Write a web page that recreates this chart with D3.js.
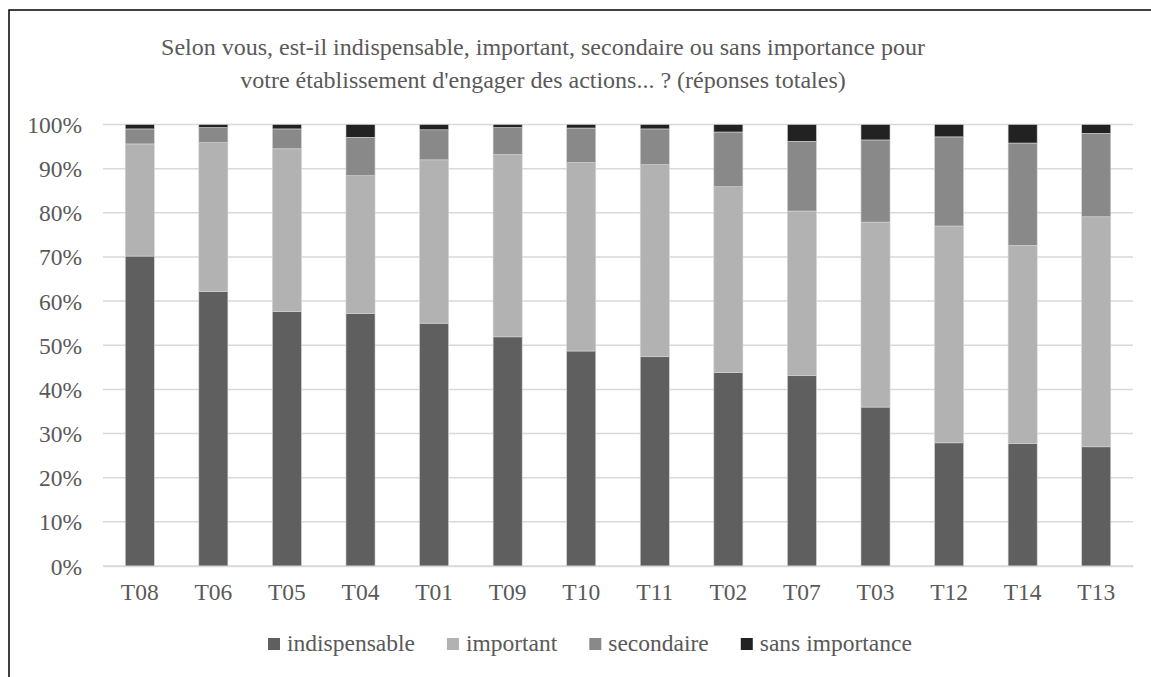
<!DOCTYPE html>
<html>
<head>
<meta charset="utf-8">
<script src="https://cdn.jsdelivr.net/npm/d3@7"></script>
<style>
  html, body { margin: 0; padding: 0; background: #fff; overflow: hidden; }
  svg { display: block; }
  svg text { font-family: "Liberation Serif", "Times New Roman", serif; fill: #595959; }
</style>
</head>
<body>
<svg id="chart"></svg>
<script>
// values, in %
const categories = ["T08", "T06", "T05", "T04", "T01", "T09", "T10", "T11", "T02", "T07", "T03", "T12", "T14", "T13"]
const indispensable = [70.2, 62.2, 57.6, 57.2, 55.0, 51.9, 48.7, 47.4, 43.8, 43.1, 36.0, 27.9, 27.7, 27.0]
const important     = [25.4, 33.7, 36.9, 31.2, 37.0, 41.3, 42.7, 43.5, 42.1, 37.3, 41.9, 49.1, 44.9, 52.1]
const secondaire    = [3.4, 3.4, 4.5, 8.7, 6.8, 6.1, 7.8, 8.1, 12.4, 15.8, 18.6, 20.2, 23.2, 18.9]
const sansImportance = [1.0, 0.7, 1.0, 2.9, 1.2, 0.7, 0.8, 1.0, 1.7, 3.8, 3.5, 2.8, 4.2, 2.0]
const seriesNames = ["indispensable", "important", "secondaire", "sans importance"]
const yTicks = [0, 10, 20, 30, 40, 50, 60, 70, 80, 90, 100]

const colors = ["#5f5f5f", "#b2b2b2", "#898989", "#222222"]

const width = 1151, height = 677
const margin = {top: 124.5, right: 18, bottom: 111, left: 103}

const svg = d3.select("#chart")
    .attr("width", width)
    .attr("height", height)

// chart frame: only left and top edges are inside the picture
svg.append("path")
    .attr("d", `M9,${height + 5}V10H${width + 5}`)
    .attr("fill", "none")
    .attr("stroke", "#000")
    .attr("stroke-width", 1.5)

const rows = categories.map((c, i) => ({
  cat: c,
  "indispensable": indispensable[i],
  "important": important[i],
  "secondaire": secondaire[i],
  "sans importance": sansImportance[i]
}))

const stacked = d3.stack().keys(seriesNames)(rows)

const x = d3.scaleBand()
    .domain(categories)
    .range([margin.left, width - margin.right])
    .paddingInner(0.605)
    .paddingOuter(0.3025)

const y = d3.scaleLinear()
    .domain([0, 100])
    .range([height - margin.bottom, margin.top])

const color = d3.scaleOrdinal().domain(seriesNames).range(colors)

// gridlines
svg.append("g")
    .attr("stroke", "#d9d9d9")
    .attr("stroke-width", 1.5)
  .selectAll("line")
  .data(yTicks)
  .join("line")
    .attr("x1", margin.left)
    .attr("x2", width - margin.right)
    .attr("y1", d => y(d))
    .attr("y2", d => y(d))

// y axis labels
const yAxis = svg.append("g")
    .attr("transform", `translate(${margin.left - 7},0)`)
    .call(d3.axisLeft(y).tickValues(yTicks).tickFormat(d => d + "%").tickSize(0).tickPadding(14))
yAxis.select(".domain").remove()
yAxis.selectAll("text")
    .attr("font-size", 23.5)
    .attr("dy", "0.34em")

// bars
svg.append("g")
  .selectAll("g")
  .data(stacked)
  .join("g")
    .attr("fill", d => color(d.key))
  .selectAll("rect")
  .data(d => d)
  .join("rect")
    .attr("x", d => x(d.data.cat))
    .attr("width", x.bandwidth())
    .attr("y", d => y(d[1]))
    .attr("height", d => y(d[0]) - y(d[1]))
    .attr("stroke", "#d4d4d4")
    .attr("stroke-width", 0.6)

// x axis
const xAxis = svg.append("g")
    .attr("transform", `translate(0,${height - margin.bottom})`)
    .call(d3.axisBottom(x).tickSize(0).tickPadding(17))
xAxis.select(".domain").attr("stroke", "#d9d9d9").attr("stroke-width", 1.5)
xAxis.selectAll("text")
    .attr("font-size", 23.5)

// title
const titleX = 543
const title = svg.append("text")
    .attr("text-anchor", "middle")
    .attr("font-size", 24)
title.append("tspan").attr("x", titleX).attr("y", 55)
    .text("Selon vous, est-il indispensable, important, secondaire ou sans importance pour")
title.append("tspan").attr("x", titleX).attr("y", 88)
    .text("votre établissement d'engager des actions... ? (réponses totales)")

// legend, laid out from the measured text widths
const legend = svg.append("g")
  .selectAll("g")
  .data(seriesNames)
  .join("g")
legend.append("rect")
    .attr("x", 0).attr("y", -13)
    .attr("width", 12).attr("height", 12)
    .attr("fill", d => color(d))
legend.append("text")
    .attr("x", 19)
    .attr("y", 0)
    .attr("font-size", 23.5)
    .text(d => d)

let lx = 268
legend.each(function() {
  const g = d3.select(this)
  g.attr("transform", `translate(${lx},651)`)
  lx += 19 + g.select("text").node().getComputedTextLength() + 32
})
</script>
</body>
</html>
